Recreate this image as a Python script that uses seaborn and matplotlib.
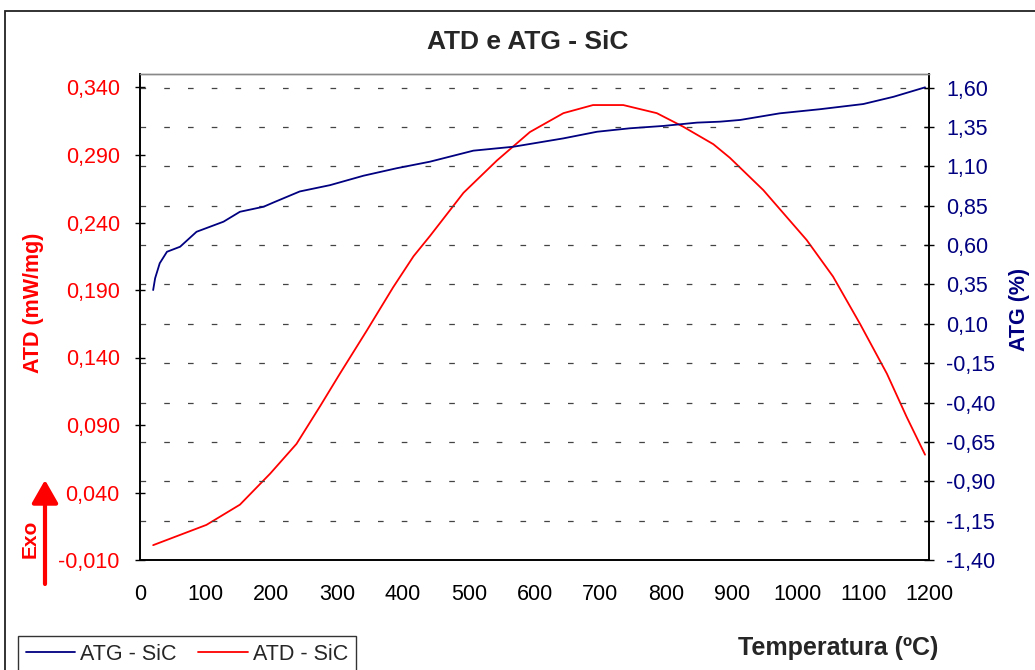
import matplotlib
matplotlib.use("Agg")
import matplotlib.pyplot as plt
import seaborn as sns
import pandas as pd
from matplotlib.patches import Rectangle
from matplotlib.lines import Line2D
from matplotlib.ticker import FuncFormatter

# ---------------- data ----------------
atd_temp = [20, 101, 152, 198, 238, 274, 304, 345, 385, 416, 441, 492, 543, 593,
            644, 689, 735, 786, 826, 872, 897, 948, 1014, 1054, 1095, 1136, 1166, 1194]
atd_vals = [0.001, 0.016, 0.031, 0.054, 0.076, 0.104, 0.128, 0.160, 0.192, 0.215,
            0.230, 0.262, 0.286, 0.307, 0.321, 0.327, 0.327, 0.321, 0.311, 0.298,
            0.288, 0.264, 0.227, 0.200, 0.165, 0.128, 0.096, 0.068]

atg_temp = [20, 23, 30, 41, 61, 86, 127, 152, 188, 203, 243, 289, 340, 390, 441,
            507, 568, 644, 695, 745, 796, 847, 882, 913, 973, 1034, 1100, 1146, 1194]
atg_vals = [0.314, 0.389, 0.484, 0.557, 0.589, 0.684, 0.748, 0.811, 0.843, 0.870,
            0.940, 0.980, 1.040, 1.087, 1.129, 1.199, 1.224, 1.277, 1.319, 1.341,
            1.356, 1.377, 1.383, 1.394, 1.436, 1.462, 1.495, 1.541, 1.601]

x_ticks = [0, 100, 200, 300, 400, 500, 600, 700, 800, 900, 1000, 1100, 1200]
left_ticks = [-0.010, 0.040, 0.090, 0.140, 0.190, 0.240, 0.290, 0.340]
right_ticks = [-1.40, -1.15, -0.90, -0.65, -0.40, -0.15, 0.10, 0.35, 0.60,
               0.85, 1.10, 1.35, 1.60]

title = "ATD e ATG - SiC"
xlabel = "Temperatura (ºC)"
ylabel_left = "ATD (mW/mg)"
ylabel_right = "ATG (%)"
label_atg = "ATG - SiC"
label_atd = "ATD - SiC"

RED = "#FF0000"
NAVY = "#000080"

df_atd = pd.DataFrame({"T": atd_temp, "v": atd_vals})
df_atg = pd.DataFrame({"T": atg_temp, "v": atg_vals})

# ---------------- style ----------------
sns.set_style("white")
plt.rcParams["font.family"] = ["Liberation Sans", "DejaVu Sans"]

W, H = 1035, 670
fig = plt.figure(figsize=(W / 100, H / 100), dpi=100)
fig.patch.set_facecolor("white")

ax = fig.add_axes([140 / W, (H - 560) / H, 789 / W, 486 / H])
ax2 = ax.twinx()

# outer chart border
fig.add_artist(Rectangle((5 / W, -0.1), 1.2, 1 - 11 / H + 0.1, transform=fig.transFigure,
                         fill=False, edgecolor="#222222", lw=1.3))

# grid (from right axis ticks)
ax2.set_axisbelow(True)
ax2.yaxis.grid(True, color="#444444", lw=0.9, linestyle=(0, (4.5, 14.5)))
ax.xaxis.grid(False)
ax.yaxis.grid(False)

sns.lineplot(data=df_atd, x="T", y="v", ax=ax, color=RED, lw=1.3, legend=False)
sns.lineplot(data=df_atg, x="T", y="v", ax=ax2, color=NAVY, lw=1.3, legend=False)

ax.set_xlim(0, 1200)
ax.set_ylim(-0.010, 0.350)
ax2.set_ylim(-1.40, -1.40 + 3.0 * 0.36 / 0.35)

ax.set_xticks(x_ticks)
ax.set_yticks(left_ticks)
ax2.set_yticks(right_ticks)
ax.yaxis.set_major_formatter(FuncFormatter(lambda v, p: f"{v:.3f}".replace(".", ",")))
ax2.yaxis.set_major_formatter(FuncFormatter(lambda v, p: f"{v:.2f}".replace(".", ",")))

ax.set_xlabel("")
ax.set_ylabel("")
ax2.set_ylabel("")

fs_tick = 15.5
ax.tick_params(axis="x", direction="out", length=4, width=1, colors="black",
               labelsize=fs_tick, pad=13)
ax.tick_params(axis="y", direction="inout", length=7, width=1, color="black",
               labelcolor=RED, labelsize=fs_tick, pad=11)
ax2.tick_params(axis="y", direction="inout", length=7, width=1, color="black",
                labelcolor=NAVY, labelsize=fs_tick, pad=9)

for a in (ax, ax2):
    for s in ("left", "right", "bottom"):
        a.spines[s].set_color("black")
        a.spines[s].set_linewidth(1.2)
    a.spines["top"].set_color("#888888")
    a.spines["top"].set_linewidth(1.0)

# texts
fig.text(528 / W, 1 - 42 / H, title, ha="center", va="center",
         fontsize=19, fontweight="bold")
fig.text(838 / W, 1 - 648 / H, xlabel, ha="center", va="center",
         fontsize=18, fontweight="bold")
fig.text(33 / W, 1 - 303 / H, ylabel_left, ha="center", va="center",
         rotation=90, fontsize=15.5, fontweight="bold", color=RED)
fig.text(1019 / W, 1 - 309 / H, ylabel_right, ha="center", va="center",
         rotation=90, fontsize=15.5, fontweight="bold", color=NAVY)

# Exo arrow
fig.text(30 / W, 1 - 539 / H, "Exo", ha="center", va="center", rotation=90,
         fontsize=15, fontweight="bold", color=RED)
ax.annotate("", xy=(45, H - 480), xycoords="figure pixels",
            xytext=(45, H - 584), textcoords="figure pixels",
            arrowprops=dict(arrowstyle="-|>,head_length=0.7,head_width=0.4",
                            color=RED, lw=3, mutation_scale=20,
                            shrinkA=0, shrinkB=0))

# legend
handles = [Line2D([], [], color=NAVY, lw=1.3), Line2D([], [], color=RED, lw=1.3)]
leg = fig.legend(handles, [label_atg, label_atd], loc="upper left",
                 bbox_to_anchor=(18 / W, 1 - 636 / H), ncol=2, frameon=True,
                 fancybox=False, edgecolor="black", fontsize=15.5,
                 handlelength=2.3, handletextpad=0.25, columnspacing=1.0,
                 borderpad=0.35, borderaxespad=0)
leg.get_frame().set_linewidth(1.0)

fig.savefig("out.png", dpi=100, facecolor="white")
